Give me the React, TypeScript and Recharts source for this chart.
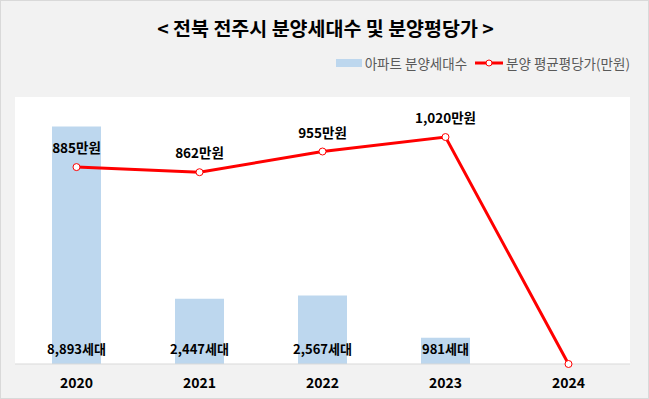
import {
  Bar,
  CartesianGrid,
  ComposedChart,
  LabelList,
  Line,
  XAxis,
  YAxis,
} from "recharts";

const years = ["2020", "2021", "2022", "2023", "2024"];
const units = [8893, 2447, 2567, 981, null];
const prices = [885, 862, 955, 1020, 0];

const data = years.map((year, i) => ({ year, units: units[i], price: prices[i] }));

const FONT = "'Noto Sans CJK KR', 'Noto Sans', sans-serif";

const fmt = (v: number) => v.toLocaleString("en-US");

function UnitLabel(props: any) {
  const { x, y, width, height, value } = props;
  if (value == null || value === 0) return null;
  return (
    <text
      x={x + width / 2}
      y={y + height - 16}
      textAnchor="middle"
      dominantBaseline="central"
      fontSize={13}
      fontWeight={700}
      fill="#000"
    >
      {fmt(value)}세대
    </text>
  );
}

function PriceLabel(props: any) {
  const { x, y, value } = props;
  if (!value) return null;
  return (
    <text
      x={x}
      y={y - 20}
      textAnchor="middle"
      dominantBaseline="central"
      fontSize={13.5}
      fontWeight={700}
      fill="#000"
    >
      {fmt(value)}만원
    </text>
  );
}

export default function App() {
  return (
    <div
      style={{
        position: "absolute",
        left: 0,
        top: 0,
        width: 647,
        height: 397,
        background: "#f2f2f2",
        border: "1px solid #d9d9d9",
        fontFamily: FONT,
      }}
    >
      <div
        style={{
          position: "absolute",
          left: 0,
          top: 14,
          width: 649,
          textAlign: "center",
          fontSize: 19.5,
          fontWeight: 700,
          color: "#000",
          lineHeight: "26px",
        }}
      >
        &lt; 전북 전주시 분양세대수 및 분양평당가 &gt;
      </div>
      <div
        style={{
          position: "absolute",
          right: 18,
          top: 52,
          display: "flex",
          alignItems: "center",
          fontSize: 13.5,
          color: "#595959",
          lineHeight: "20px",
        }}
      >
        <span style={{ display: "inline-block", width: 26, height: 8, background: "#bdd7ee", marginRight: 3 }} />
        <span>아파트 분양세대수</span>
        <svg width={28} height={10} style={{ marginLeft: 8, marginRight: 3 }}>
          <line x1={0} y1={5} x2={28} y2={5} stroke="#ff0000" strokeWidth={3} />
          <circle cx={14} cy={5} r={3} fill="#fff" stroke="#ff0000" strokeWidth={1} />
        </svg>
        <span>분양 평균평당가(만원)</span>
      </div>
      <div style={{ position: "absolute", left: -1, top: -1 }}>
        <ComposedChart
          width={649}
          height={399}
          data={data}
          margin={{ top: 97, right: 19, bottom: 0, left: 15 }}
          style={{ fontFamily: FONT }}
        >
          <CartesianGrid horizontal={false} vertical={false} fill="#ffffff" />
          <XAxis
            dataKey="year"
            height={35}
            axisLine={{ stroke: "#d9d9d9" }}
            tickLine={false}
            tickSize={0}
            tickMargin={14}
            tick={{ fontSize: 14, fontWeight: 700, fill: "#000" }}
          />
          <YAxis yAxisId="left" hide domain={[0, 10000]} />
          <YAxis yAxisId="right" hide orientation="right" domain={[0, 1200]} />
          <Bar yAxisId="left" dataKey="units" fill="#bdd7ee" barSize={49} isAnimationActive={false}>
            <LabelList dataKey="units" content={<UnitLabel />} />
          </Bar>
          <Line
            yAxisId="right"
            dataKey="price"
            type="linear"
            stroke="#ff0000"
            strokeWidth={3}
            dot={{ r: 3.5, fill: "#fff", stroke: "#ff0000", strokeWidth: 1 }}
            isAnimationActive={false}
          >
            <LabelList dataKey="price" content={<PriceLabel />} />
          </Line>
        </ComposedChart>
      </div>
    </div>
  );
}
